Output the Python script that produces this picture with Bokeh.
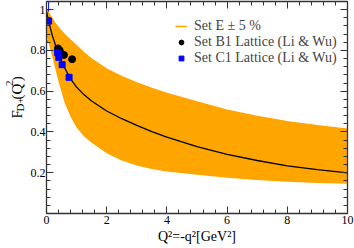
import numpy as np
from math import pi
from bokeh.plotting import figure
from bokeh.layouts import row
from bokeh.core.properties import value
from bokeh.models import (ColumnDataSource, Whisker, TeeHead, Legend, LegendItem,
                          LinearAxis, FixedTicker, SingleIntervalTicker,
                          NumeralTickFormatter, CustomJSTickFormatter)
from bokeh.embed import file_html
from bokeh.resources import INLINE

# ---- data ----
q2_grid = [0, 0.1, 0.2, 0.3, 0.4, 0.6, 0.8, 1.0, 1.25, 1.5, 2.0, 2.5, 3.0, 3.5,
           4.0, 5.0, 6.0, 7.0, 8.0, 9.0, 10.0]
f_central = [0.99, 0.925, 0.87, 0.825, 0.78, 0.715, 0.66, 0.62, 0.582, 0.552, 0.503,
             0.465, 0.432, 0.402, 0.375, 0.328, 0.29, 0.26, 0.234, 0.215, 0.199]
f_upper = [1.0, 0.975, 0.952, 0.93, 0.91, 0.878, 0.85, 0.823, 0.787, 0.757, 0.708,
           0.671, 0.64, 0.613, 0.589, 0.547, 0.507, 0.476, 0.45, 0.43, 0.413]
f_lower = [0.87, 0.82, 0.765, 0.705, 0.648, 0.545, 0.475, 0.422, 0.378, 0.347, 0.296,
           0.26, 0.235, 0.218, 0.206, 0.19, 0.175, 0.164, 0.156, 0.15, 0.146]

b1_q2 = [0.38, 0.44, 0.58, 0.85]
b1_f = [0.81, 0.80, 0.778, 0.757]
b1_err = [0.01, 0.01, 0.01, 0.022]

c1_q2 = [0.07, 0.37, 0.41, 0.52, 0.75]
c1_f = [0.944, 0.789, 0.766, 0.73, 0.668]
c1_err = [0.098, 0.012, 0.012, 0.01, 0.015]

y_ticks = [0.2, 0.4, 0.6, 0.8, 1.0]
y_minor = list(np.round(np.arange(0, 1.041, 0.04), 3))

legend_labels = ["Set E \u00b1 5 %", "Set B1 Lattice (Li & Wu)", "Set C1 Lattice (Li & Wu)"]
x_title = "Q\u00b2=-q\u00b2[GeV\u00b2]"
y_title_main = ["F", "(Q", ")"]
y_title_small = ["D+", "2"]

ORANGE = "#FFA500"
AX = "#333333"
SERIF = "Liberation Serif"

SIDE_W = 27
H = 248

p = figure(width=354 - SIDE_W, height=H, x_range=(0, 10), y_range=(0, 1.04),
           output_backend="svg", toolbar_location=None,
           min_border_left=43 - SIDE_W, min_border_right=7, min_border_top=1,
           min_border_bottom=35)
p.xgrid.visible = False
p.ygrid.visible = False
p.outline_line_color = None
p.background_fill_color = "white"

p.varea(x=q2_grid, y1=f_lower, y2=f_upper, fill_color=ORANGE)
edge = p.line(q2_grid, f_upper, line_color=ORANGE, line_width=1.5)
p.line(q2_grid, f_central, line_color="black", line_width=1.3)

b1_src = ColumnDataSource(dict(x=b1_q2, y=b1_f,
                               lo=[v - e for v, e in zip(b1_f, b1_err)],
                               hi=[v + e for v, e in zip(b1_f, b1_err)]))
c1_src = ColumnDataSource(dict(x=c1_q2, y=c1_f,
                               lo=[v - e for v, e in zip(c1_f, c1_err)],
                               hi=[v + e for v, e in zip(c1_f, c1_err)]))

for src, col in ((b1_src, "black"), (c1_src, "blue")):
    w = Whisker(source=src, base="x", lower="lo", upper="hi", dimension="height",
                line_color=col, line_width=1,
                upper_head=TeeHead(size=6, line_color=col, line_width=1),
                lower_head=TeeHead(size=6, line_color=col, line_width=1))
    p.add_layout(w)

r_b1 = p.scatter("x", "y", source=b1_src, marker="circle", size=7,
                 fill_color="black", line_color="black")
r_c1 = p.scatter("x", "y", source=c1_src, marker="square", size=6,
                 fill_color="blue", line_color="blue")

# ---- axes ----
def style_axis(ax, show_labels, standoff=2):
    ax.axis_line_color = AX
    ax.axis_line_width = 1.3
    ax.major_tick_line_color = AX
    ax.minor_tick_line_color = AX
    ax.major_tick_in = 7
    ax.major_tick_out = 0
    ax.minor_tick_in = 4
    ax.minor_tick_out = 0
    ax.major_label_standoff = standoff if show_labels else 0
    ax.major_label_text_font = SERIF
    ax.major_label_text_color = "black"
    ax.major_label_text_font_size = "12px" if show_labels else "1px"
    if not show_labels:
        ax.formatter = CustomJSTickFormatter(code="return ''")

p.xaxis.ticker = SingleIntervalTicker(interval=2, num_minor_ticks=5)
p.yaxis.ticker = FixedTicker(ticks=y_ticks, minor_ticks=y_minor)
p.yaxis.formatter = NumeralTickFormatter(format="0.[0]")
style_axis(p.xaxis[0], True, 2)
style_axis(p.yaxis[0], True, 1)
p.xaxis.axis_label = x_title
p.xaxis.axis_label_text_font = SERIF
p.xaxis.axis_label_text_font_size = "14px"
p.xaxis.axis_label_text_font_style = "normal"
p.xaxis.axis_label_text_color = "black"
p.xaxis.axis_label_standoff = 2

top = LinearAxis(ticker=SingleIntervalTicker(interval=2, num_minor_ticks=5))
right = LinearAxis(ticker=FixedTicker(ticks=y_ticks, minor_ticks=y_minor))
style_axis(top, False)
style_axis(right, False)
p.add_layout(top, "above")
p.add_layout(right, "right")

# ---- legend ----
legend = Legend(items=[LegendItem(label=legend_labels[0], renderers=[edge]),
                       LegendItem(label=legend_labels[1], renderers=[r_b1]),
                       LegendItem(label=legend_labels[2], renderers=[r_c1])],
                location=(126, 144), label_text_font=SERIF, label_text_font_size="14px",
                glyph_width=12, glyph_height=12, label_height=12, spacing=0,
                padding=3, margin=0, label_standoff=7,
                background_fill_alpha=0, border_line_alpha=0)
p.add_layout(legend)

# ---- y-axis title F_{D+}(Q^2): a narrow side panel holding rotated text ----
side = figure(width=SIDE_W, height=H, x_range=(0, SIDE_W), y_range=(0, H),
              output_backend="svg", toolbar_location=None,
              x_axis_location=None, y_axis_location=None,
              min_border=0, min_border_left=0, min_border_right=0,
              min_border_top=0, min_border_bottom=0)
side.xgrid.visible = False
side.ygrid.visible = False
side.outline_line_color = None
# positions of the pieces (px inside the side panel, y measured upward)
main_x = [16, 16, 16]
main_y = [111, 133.4, 154.7]
small_x = [19.5, 9]
small_y = [119.3, 149.2]
side.text(x=main_x, y=main_y, text=y_title_main, angle=pi / 2,
          text_font=value(SERIF), text_font_size="15px",
          text_align="left", text_baseline="alphabetic", text_color="black")
side.text(x=small_x, y=small_y, text=y_title_small, angle=pi / 2,
          text_font=value(SERIF), text_font_size="11px",
          text_align="left", text_baseline="alphabetic", text_color="black")

layout = row(side, p, spacing=0)
open("out.html", "w").write(file_html(layout, INLINE))
